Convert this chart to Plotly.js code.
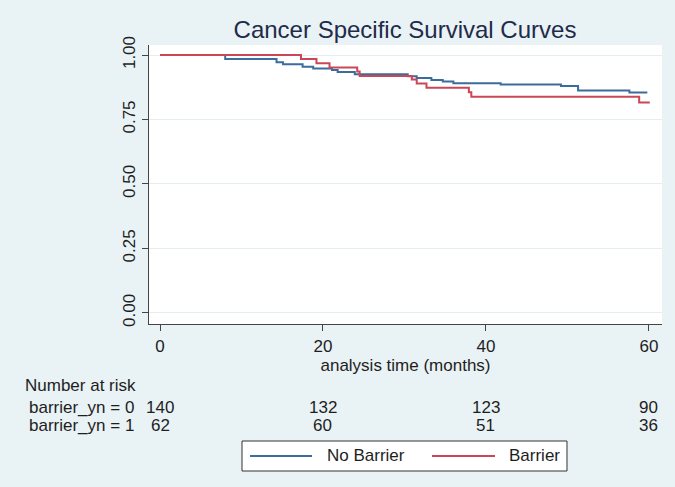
<!DOCTYPE html>
<html>
<head>
<meta charset="utf-8">
<script src="https://cdn.plot.ly/plotly-3.0.1.min.js"></script>
<style>
  html, body { margin: 0; padding: 0; background: #e9f2f5; }
  #km { width: 675px; height: 487px; }
</style>
</head>
<body>
<div id="km"></div>
<script>
// Kaplan-Meier steps
var noBarrierTime = [0, 8.0, 14.3, 15.1, 17.5, 18.8, 21.1, 21.8, 23.9, 30.4, 31.5, 33.3, 34.7, 36.0, 41.8, 49.2, 51.3, 57.6, 59.8];
var noBarrierSurv = [1.0, 0.985, 0.972, 0.964, 0.955, 0.948, 0.942, 0.934, 0.926, 0.918, 0.911, 0.903, 0.897, 0.891, 0.886, 0.880, 0.863, 0.855, 0.855];

var barrierTime = [0, 17.3, 19.2, 20.8, 24.2, 24.5, 30.9, 31.5, 32.7, 37.9, 38.2, 58.8, 60.1];
var barrierSurv = [1.0, 0.985, 0.968, 0.952, 0.936, 0.919, 0.905, 0.890, 0.873, 0.856, 0.838, 0.816, 0.816];

// number at risk table
var riskTimes = [0, 20, 40, 60];
var riskNoBarrier = [140, 132, 123, 90];
var riskBarrier = [62, 60, 51, 36];
var riskLabels = ['barrier_yn = 0', 'barrier_yn = 1'];

var yTicks = [0, 0.25, 0.5, 0.75, 1];
var xTicks = [0, 20, 40, 60];

var seriesNames = ['No Barrier', 'Barrier'];
var seriesColors = ['#3a6d9b', '#cb4656'];

var txt = '#1e1e1e';
var fnt = 'Liberation Sans, Arial, sans-serif';
var fs = 17;

var traces = [
  {
    x: noBarrierTime, y: noBarrierSurv, type: 'scatter', mode: 'lines',
    line: {shape: 'hv', color: seriesColors[0], width: 2},
    name: seriesNames[0]
  },
  {
    x: barrierTime, y: barrierSurv, type: 'scatter', mode: 'lines',
    line: {shape: 'hv', color: seriesColors[1], width: 2},
    name: seriesNames[1]
  }
];

var notes = [];
notes.push({
  text: 'Number at risk', xref: 'paper', yref: 'paper', x: -0.246, y: -0.220,
  xanchor: 'left', yanchor: 'middle', showarrow: false,
  font: {size: fs, color: txt, family: fnt}
});
var rows = [riskNoBarrier, riskBarrier];
var rowY = [-0.300, -0.365];
rows.forEach(function(row, r) {
  notes.push({
    text: riskLabels[r], xref: 'paper', yref: 'paper', x: -0.238, y: rowY[r],
    xanchor: 'left', yanchor: 'middle', showarrow: false,
    font: {size: fs, color: txt, family: fnt}
  });
  row.forEach(function(n, i) {
    notes.push({
      text: String(n), xref: 'x', yref: 'paper', x: riskTimes[i], y: rowY[r],
      xanchor: 'center', yanchor: 'middle', showarrow: false,
      font: {size: fs, color: txt, family: fnt}
    });
  });
});

// legend box drawn by hand, Stata style
var legY = -0.4731;
var shapes = [{
  type: 'rect', xref: 'paper', yref: 'paper',
  x0: 0.1813, x1: 0.8148, y0: -0.4194, y1: -0.5269,
  fillcolor: '#ffffff', line: {color: '#333', width: 1}
}];
var legLine = [[0.1969, 0.3178], [0.5517, 0.6745]];
var legText = [0.3431, 0.6979];
seriesNames.forEach(function(nm, i) {
  shapes.push({
    type: 'line', xref: 'paper', yref: 'paper',
    x0: legLine[i][0], x1: legLine[i][1], y0: legY, y1: legY,
    line: {color: seriesColors[i], width: 2}
  });
  notes.push({
    text: nm, xref: 'paper', yref: 'paper', x: legText[i], y: legY,
    xanchor: 'left', yanchor: 'middle', showarrow: false,
    font: {size: fs, color: txt, family: fnt}
  });
});

var layout = {
  width: 675, height: 487,
  paper_bgcolor: '#e9f2f5',
  plot_bgcolor: '#ffffff',
  margin: {l: 149, r: 13, t: 45, b: 163},
  font: {family: fnt, color: txt, size: fs},
  title: {
    text: 'Cancer Specific Survival Curves',
    font: {size: 24, color: '#1f2b4a', family: fnt},
    x: 0.6, xanchor: 'center', y: 0.94, yanchor: 'middle'
  },
  xaxis: {
    range: [-1.35, 61.6], tickvals: xTicks,
    showgrid: false, zeroline: false,
    showline: true, linecolor: '#444', linewidth: 1,
    ticks: 'outside', ticklen: 6, tickcolor: '#444',
    ticklabelstandoff: 1,
    tickfont: {size: fs, color: txt},
    title: {text: 'analysis time (months)', standoff: 0, font: {size: fs, color: txt}}
  },
  yaxis: {
    range: [-0.043, 1.039], tickvals: yTicks, tickformat: '.2f',
    tickangle: -90,
    showgrid: true, gridcolor: '#e3eef2', gridwidth: 1,
    zeroline: false,
    showline: true, linecolor: '#444', linewidth: 1,
    ticks: 'outside', ticklen: 6, tickcolor: '#444',
    tickfont: {size: fs, color: txt}
  },
  showlegend: false,
  shapes: shapes,
  annotations: notes
};

Plotly.newPlot('km', traces, layout, {staticPlot: true});
</script>
</body>
</html>
